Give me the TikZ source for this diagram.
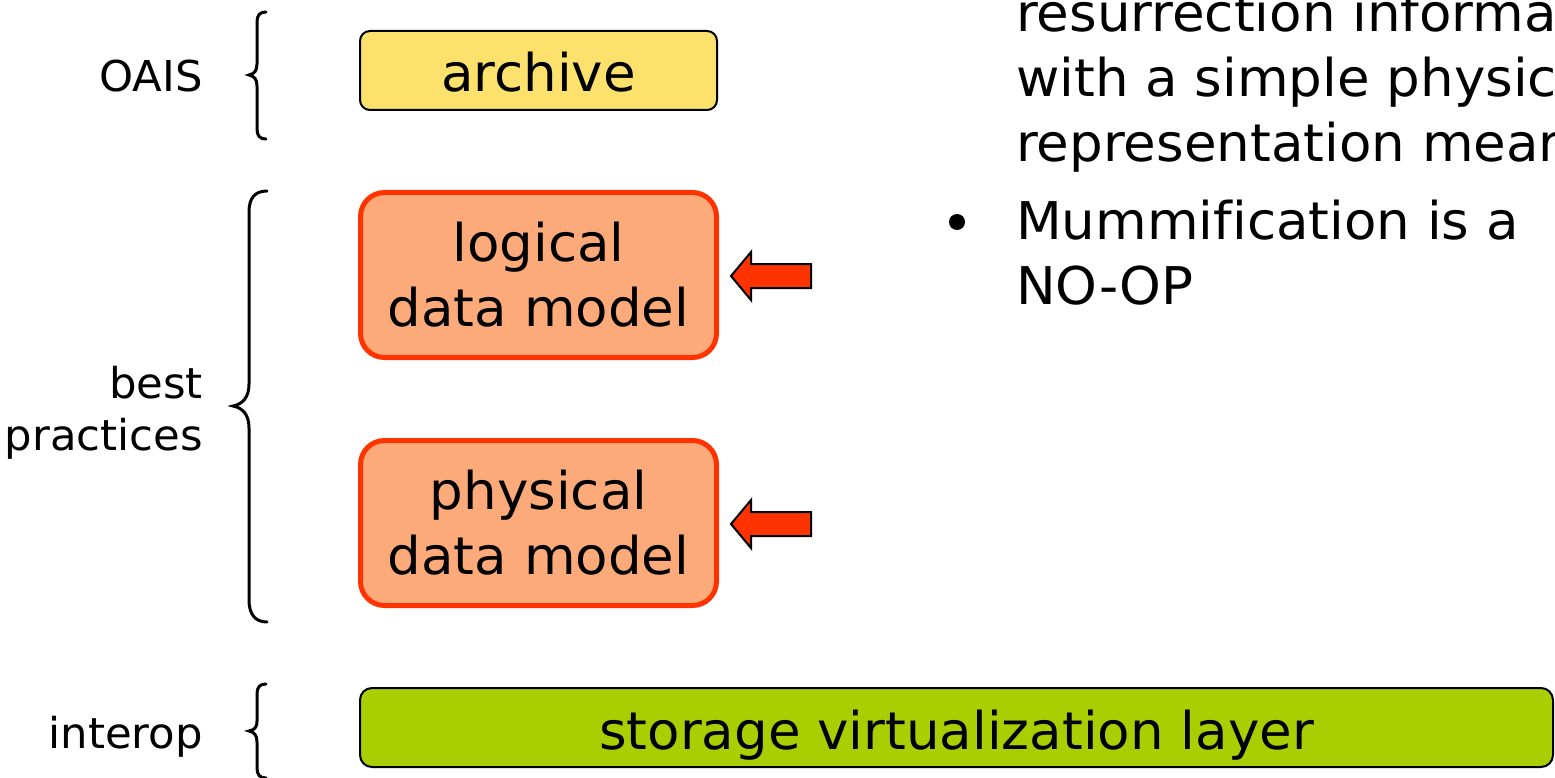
\documentclass[tikz,border=0pt]{standalone}
\usepackage{fontspec}
\setmainfont[Ligatures={NoCommon}, FakeStretch=1.02]{DejaVu Sans}
\newcommand\BoxFont{\fontsize{52}{65}\selectfont}
\newcommand\LabFont{\fontsize{42.5}{52}\selectfont}
\definecolor{archyellow}{HTML}{FCE26C}
\definecolor{modelorange}{HTML}{FCAA7A}
\definecolor{modelred}{HTML}{FF3300}
\definecolor{storgreen}{HTML}{AACF00}
\tikzset{
  archbox/.style={draw=black, line width=2pt, fill=archyellow, rounded corners=10pt,
    minimum width=357pt, minimum height=79pt, inner sep=0pt, font=\BoxFont,
    text height=43pt, text depth=0pt},
  modelbox/.style={draw=modelred, line width=5pt, fill=modelorange, rounded corners=24pt,
    minimum width=356pt, minimum height=165pt, inner sep=0pt, font=\BoxFont, align=center},
  storbox/.style={draw=black, line width=2pt, fill=storgreen, rounded corners=12pt,
    minimum width=1193pt, minimum height=79pt, inner sep=0pt, font=\BoxFont,
    text height=43pt, text depth=0pt},
  lab/.style={font=\LabFont, inner sep=0pt, anchor=base east, align=right},
  bodytext/.style={font=\BoxFont, inner sep=0pt, anchor=base west},
  bracel/.style={draw=black, line width=3pt, line cap=round},
  blockarrow/.style={draw=black, line width=2pt, fill=modelred, line join=miter}
}
\begin{document}
\begin{tikzpicture}[x=1pt, y=-1pt]
\path[use as bounding box, clip] (0,0) rectangle (1555,778);
\fill[white] (0,0) rectangle (1555,778);

% boxes
\node[archbox] (archive) at (538.5,70.5) {archive};
\node[modelbox] (logical) at (538.5,275) {logical\\data model};
\node[modelbox] (physical) at (538.5,523) {physical\\data model};
\node[storbox] (storage) at (956.5,727.5) {storage virtualization layer};

% left labels
\node[lab] (oais) at (203,92) {OAIS};
\node[lab] (best) at (203,450) {best\\practices};
\node[lab] (interop) at (203,748) {interop};

% braces
\draw[bracel] (266,12) .. controls (260,12) and (257,15) .. (257,22) -- (257,64)
  .. controls (257,71) and (254,74) .. (249,75) .. controls (254,76) and (257,79) .. (257,86)
  -- (257,129) .. controls (257,136) and (260,139) .. (266,139);
\draw[bracel] (267,191) .. controls (255,191) and (249,198) .. (249,212) -- (249,384)
  .. controls (249,397) and (243,404) .. (233,406) .. controls (243,408) and (249,415) .. (249,428)
  -- (249,600) .. controls (249,614) and (255,622) .. (267,622);
\draw[bracel] (266,684) .. controls (260,684) and (257,687) .. (257,694) -- (257,721)
  .. controls (257,728) and (254,730) .. (249,731) .. controls (254,732) and (257,735) .. (257,742)
  -- (257,768) .. controls (257,775) and (260,778) .. (266,778);

% block arrows pointing at the model boxes
\draw[blockarrow] ([xshift=12pt,yshift=-1pt]logical.east) -- ++(20,-24) -- ++(0,12) -- ++(60,0)
  -- ++(0,24) -- ++(-60,0) -- ++(0,12) -- cycle;
\draw[blockarrow] ([xshift=12pt,yshift=-1pt]physical.east) -- ++(20,-24) -- ++(0,12) -- ++(60,0)
  -- ++(0,24) -- ++(-60,0) -- ++(0,12) -- cycle;

% right-hand text
\node[bodytext] (l1) at (1016,32) {resurrection informa};
\node[bodytext] (l2) at (1016,97) {with a simple physic};
\node[bodytext] (l3) at (1016,162) {representation mear};
\fill[black] (957,222) circle (8pt);
\node[bodytext] (l4) at (1016,240) {Mummification is a};
\node[bodytext] (l5) at (1016,304) {NO-OP};
\end{tikzpicture}
\end{document}
